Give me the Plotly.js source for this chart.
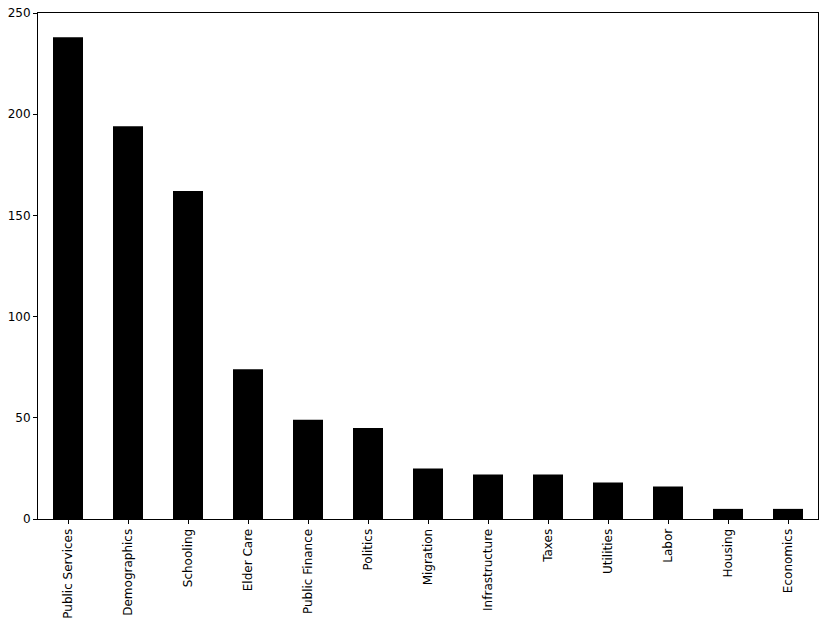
<!DOCTYPE html>
<html>
<head>
<meta charset="utf-8">
<script src="https://cdn.plot.ly/plotly-3.0.1.min.js"></script>
<style>html,body{margin:0;padding:0;background:#fff;}#chart{width:830px;height:624px;}</style>
</head>
<body>
<div id="chart"></div>
<script>
const categories = ["Public Services","Demographics","Schooling","Elder Care","Public Finance","Politics","Migration","Infrastructure","Taxes","Utilities","Labor","Housing","Economics"];
const counts = [238,194,162,74,49,45,25,22,22,18,16,5,5];
const yTicks = [0,50,100,150,200,250];

const trace = {
  type: 'bar',
  x: categories,
  y: counts,
  width: 0.5,
  marker: {color: '#000000', line: {color: '#000000', width: 0}},
  hoverinfo: 'x+y'
};

const layout = {
  width: 830, height: 624,
  margin: {l: 37.5, r: 11.5, t: 12.5, b: 105, pad: 0},
  paper_bgcolor: '#ffffff', plot_bgcolor: '#ffffff',
  font: {family: 'DejaVu Sans, sans-serif', size: 12, color: '#000'},
  showlegend: false,
  bargap: 0.5,
  xaxis: {
    type: 'category',
    range: [-0.5, 12.5],
    showgrid: false, zeroline: false,
    showline: true, linecolor: '#000', linewidth: 1, mirror: true,
    ticks: 'outside', ticklen: 4, tickwidth: 1, tickcolor: '#000',
    tickangle: -90,
    tickfont: {size: 12, family: 'DejaVu Sans, sans-serif', color: '#000'}
  },
  yaxis: {
    range: [0, 250],
    tickvals: yTicks,
    ticktext: yTicks.map(String),
    showgrid: false, zeroline: false,
    showline: true, linecolor: '#000', linewidth: 1, mirror: true,
    ticks: 'outside', ticklen: 4, tickwidth: 1, tickcolor: '#000',
    tickfont: {size: 12, family: 'DejaVu Sans, sans-serif', color: '#000'}
  }
};

Plotly.newPlot('chart', [trace], layout, {staticPlot: true, displayModeBar: false});
</script>
</body>
</html>
